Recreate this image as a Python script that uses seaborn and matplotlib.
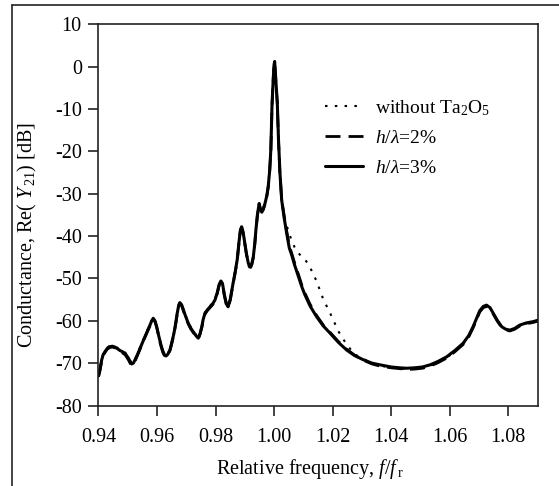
import matplotlib
matplotlib.use("Agg")
import matplotlib.pyplot as plt
from matplotlib.lines import Line2D
import seaborn as sns
import pandas as pd

# ---- data ----
freq = [0.9400, 0.9405, 0.9411, 0.9416, 0.9422, 0.9430, 0.9439, 0.9448, 0.9456, 0.9465,
        0.9473, 0.9482, 0.9491, 0.9502, 0.9508, 0.9513, 0.9519, 0.9525, 0.9533, 0.9542,
        0.9550, 0.9559, 0.9568, 0.9576, 0.9582, 0.9587, 0.9593, 0.9599, 0.9605, 0.9612,
        0.9620, 0.9627, 0.9631, 0.9637, 0.9644, 0.9651, 0.9658, 0.9664, 0.9669, 0.9674,
        0.9678, 0.9684, 0.9690, 0.9698, 0.9707, 0.9716, 0.9726, 0.9734, 0.9741, 0.9747,
        0.9753, 0.9758, 0.9764, 0.9772, 0.9781, 0.9790, 0.9798, 0.9806, 0.9812, 0.9818,
        0.9824, 0.9830, 0.9837, 0.9843, 0.9850, 0.9855, 0.9860, 0.9867, 0.9874, 0.9880,
        0.9885, 0.9889, 0.9894, 0.9900, 0.9906, 0.9912, 0.9916, 0.9920, 0.9924, 0.9929,
        0.9934, 0.9938, 0.9943, 0.9949, 0.9953, 0.9958, 0.9963, 0.9969, 0.9975, 0.9980,
        0.9985, 0.9989, 0.9993, 0.9997, 1.0000, 1.0002, 1.0005, 1.0008, 1.0011, 1.0015,
        1.0020, 1.0026, 1.0034, 1.0043, 1.0052, 1.0060, 1.0070, 1.0083, 1.0095, 1.0105,
        1.0123, 1.0145, 1.0168, 1.0191, 1.0220, 1.0248, 1.0275, 1.0305, 1.0335, 1.0362,
        1.0400, 1.0430, 1.0453, 1.0480, 1.0507, 1.0533, 1.0560, 1.0590, 1.0618, 1.0646,
        1.0665, 1.0680, 1.0692, 1.0703, 1.0715, 1.0726, 1.0738, 1.0749, 1.0763, 1.0778,
        1.0792, 1.0806, 1.0822, 1.0840, 1.0862, 1.0885, 1.0905]

g_3pct = [-73.0, -71.5, -69.2, -68.0, -67.3, -66.5, -66.1, -66.0, -66.2, -66.6,
          -67.0, -67.3, -67.7, -68.8, -69.6, -70.2, -70.0, -69.2, -68.0, -66.5,
          -65.1, -63.7, -62.3, -61.0, -60.0, -59.4, -60.0, -61.4, -63.3, -65.3,
          -67.2, -68.2, -68.3, -67.9, -66.9, -65.0, -62.9, -60.5, -58.2, -56.4,
          -55.7, -56.2, -57.4, -59.0, -60.6, -61.8, -62.8, -63.6, -64.1, -63.0,
          -61.4, -59.6, -58.2, -57.4, -56.7, -56.0, -55.1, -53.3, -51.5, -50.6,
          -51.3, -53.8, -56.0, -56.7, -55.0, -53.0, -51.1, -48.5, -45.6, -41.5,
          -38.5, -37.8, -39.0, -41.7, -44.3, -46.4, -47.1, -47.2, -46.5, -44.9,
          -41.8, -38.5, -35.0, -32.3, -33.5, -34.2, -33.6, -32.3, -30.5, -28.3,
          -24.5, -19.5, -9.0, -3.0, 0.5, 1.2, -2.0, -5.0, -8.5, -17.0,
          -25.0, -31.5, -35.5, -39.3, -42.8, -44.4, -46.8, -49.5, -52.0, -53.8,
          -56.5, -59.0, -61.2, -62.9, -65.1, -66.9, -68.2, -69.2, -70.0, -70.4,
          -70.9, -71.1, -71.2, -71.1, -70.9, -70.4, -69.6, -68.5, -67.0, -65.3,
          -63.5, -61.4, -59.4, -57.6, -56.6, -56.3, -56.9, -58.2, -59.9, -61.4,
          -62.0, -62.2, -61.8, -61.0, -60.5, -60.2, -59.8]

g_2pct = [-73.2, -71.8, -69.5, -68.2, -67.5, -66.7, -66.3, -66.2, -66.4, -66.8,
          -67.3, -67.6, -68.0, -69.2, -70.0, -70.6, -70.4, -69.5, -68.2, -66.7,
          -65.3, -63.9, -62.5, -61.2, -60.2, -59.6, -60.2, -61.6, -63.5, -65.6,
          -67.5, -68.5, -68.6, -68.1, -67.1, -65.2, -63.1, -60.7, -58.4, -56.6,
          -55.9, -56.4, -57.6, -59.2, -60.8, -62.0, -63.0, -63.8, -64.3, -63.2,
          -61.6, -59.8, -58.4, -57.6, -56.9, -56.2, -55.3, -53.5, -51.7, -50.8,
          -51.5, -54.0, -56.2, -56.9, -55.2, -53.2, -51.3, -48.7, -45.8, -41.7,
          -38.7, -38.0, -39.2, -41.9, -44.5, -46.6, -47.3, -47.4, -46.7, -45.1,
          -42.0, -38.7, -35.2, -32.5, -33.7, -34.4, -33.8, -32.5, -30.7, -28.5,
          -24.7, -19.7, -9.2, -3.2, 0.3, 1.0, -2.2, -5.2, -8.7, -17.2,
          -25.2, -31.3, -35.0, -38.8, -42.2, -44.0, -46.3, -49.0, -51.6, -53.4,
          -56.1, -58.7, -61.0, -62.7, -64.9, -66.7, -68.1, -69.3, -70.2, -70.7,
          -71.1, -71.3, -71.5, -71.4, -71.2, -70.7, -69.9, -68.8, -67.3, -65.6,
          -63.8, -61.7, -59.7, -57.9, -56.9, -56.6, -57.1, -58.4, -60.1, -61.6,
          -62.2, -62.4, -62.0, -61.2, -60.7, -60.4, -60.0]

g_noTa = [-72.8, -71.3, -69.0, -67.8, -67.1, -66.3, -65.9, -65.8, -66.0, -66.4,
          -66.8, -67.1, -67.5, -68.6, -69.4, -70.0, -69.8, -69.0, -67.8, -66.3,
          -64.9, -63.5, -62.1, -60.8, -59.8, -59.2, -59.8, -61.2, -63.1, -65.1,
          -67.0, -68.0, -68.1, -67.7, -66.7, -64.8, -62.7, -60.3, -58.0, -56.2,
          -55.5, -56.0, -57.2, -58.8, -60.4, -61.6, -62.6, -63.4, -63.9, -62.8,
          -61.2, -59.4, -58.0, -57.2, -56.5, -55.8, -54.9, -53.1, -51.3, -50.4,
          -51.1, -53.6, -55.8, -56.5, -54.8, -52.8, -50.9, -48.3, -45.4, -41.3,
          -38.3, -37.6, -38.8, -41.5, -44.1, -46.2, -46.9, -47.0, -46.3, -44.7,
          -41.6, -38.3, -34.8, -32.1, -33.3, -34.0, -33.4, -32.1, -30.3, -28.1,
          -24.3, -19.3, -8.8, -2.8, 0.7, 1.3, -1.8, -4.8, -8.3, -16.8,
          -25.0, -32.0, -35.0, -37.5, -39.5, -41.0, -42.6, -44.0, -44.9, -45.4,
          -47.4, -50.6, -54.9, -58.1, -62.5, -65.6, -67.9, -69.0, -70.0, -70.6,
          -71.0, -71.3, -71.4, -71.3, -71.1, -70.6, -69.8, -68.7, -67.2, -65.5,
          -63.7, -61.6, -59.6, -57.8, -56.8, -56.5, -57.0, -58.3, -60.0, -61.5,
          -62.1, -62.3, -61.9, -61.1, -60.6, -60.3, -59.9]

series_labels = ["without Ta$_2$O$_5$", r"$h/\lambda$=2%", r"$h/\lambda$=3%"]
x_ticks = [0.94, 0.96, 0.98, 1.00, 1.02, 1.04, 1.06, 1.08]
y_ticks = [10, 0, -10, -20, -30, -40, -50, -60, -70, -80]

# ---- style ----
sns.set_theme(style="white")
plt.rcParams["font.family"] = ["Liberation Serif", "DejaVu Serif"]
plt.rcParams["mathtext.fontset"] = "custom"
plt.rcParams["mathtext.rm"] = "Liberation Serif"
plt.rcParams["mathtext.it"] = "Liberation Serif:italic"
plt.rcParams["mathtext.bf"] = "Liberation Serif:bold"

fig = plt.figure(figsize=(5.59, 4.86), dpi=100)
ax = fig.add_axes([0.1762, 0.1656, 0.7868, 0.7844])

df = pd.DataFrame({"freq": freq, "noTa": g_noTa, "h2": g_2pct, "h3": g_3pct})

sns.lineplot(data=df, x="freq", y="noTa", ax=ax, color="black", lw=1.5,
             linestyle=(0, (1.2, 3.5)), label=series_labels[0], sort=False, estimator=None)
sns.lineplot(data=df, x="freq", y="h2", ax=ax, color="black", lw=2.0,
             linestyle=(0, (5.4, 2.9)), label=series_labels[1], sort=False, estimator=None)
sns.lineplot(data=df, x="freq", y="h3", ax=ax, color="black", lw=2.2,
             linestyle="-", label=series_labels[2], sort=False, estimator=None)

ax.set_xlim(0.94, 1.0903)
ax.set_ylim(-80, 10)
ax.set_xticks(x_ticks)
ax.set_xticklabels([f"{v:.2f}" for v in x_ticks])
ax.set_yticks(y_ticks)
ax.set_yticklabels([str(v) for v in y_ticks])

for sp in ax.spines.values():
    sp.set_visible(True)
    sp.set_color("#222222")
    sp.set_linewidth(1.2)

ax.tick_params(axis="both", which="major", direction="out", length=7, width=1.2,
               color="#222222", labelsize=14.5, labelcolor="black")
ax.tick_params(axis="x", pad=9, bottom=True, top=False)
ax.tick_params(axis="y", pad=5, left=True, right=False)

ax.set_xlabel(r"Relative frequency, $f/f_{\,\mathrm{r}}$", fontsize=14.5, color="black")
ax.set_ylabel(r"Conductance, Re( $Y_{\,\mathrm{21}}$) [dB]", fontsize=14.5, color="black")
ax.xaxis.set_label_coords(0.481, -0.135)
ax.yaxis.set_label_coords(-0.135, 0.447)

leg = ax.legend(loc="upper left", bbox_to_anchor=(0.515, 0.806), frameon=False,
                fontsize=14, handlelength=1.95, handletextpad=0.62,
                labelspacing=0.6, borderpad=0, borderaxespad=0)
for t in leg.get_texts():
    t.set_color("black")

# outer frame (left and top edges, as in the reference)
fig.add_artist(Line2D([12 / 559, 12 / 559], [0, 1 - 5 / 486], transform=fig.transFigure,
                      color="#222222", lw=1.2))
fig.add_artist(Line2D([12 / 559, 1], [1 - 5 / 486, 1 - 5 / 486], transform=fig.transFigure,
                      color="#222222", lw=1.2))

fig.savefig("out.png", dpi=100)
